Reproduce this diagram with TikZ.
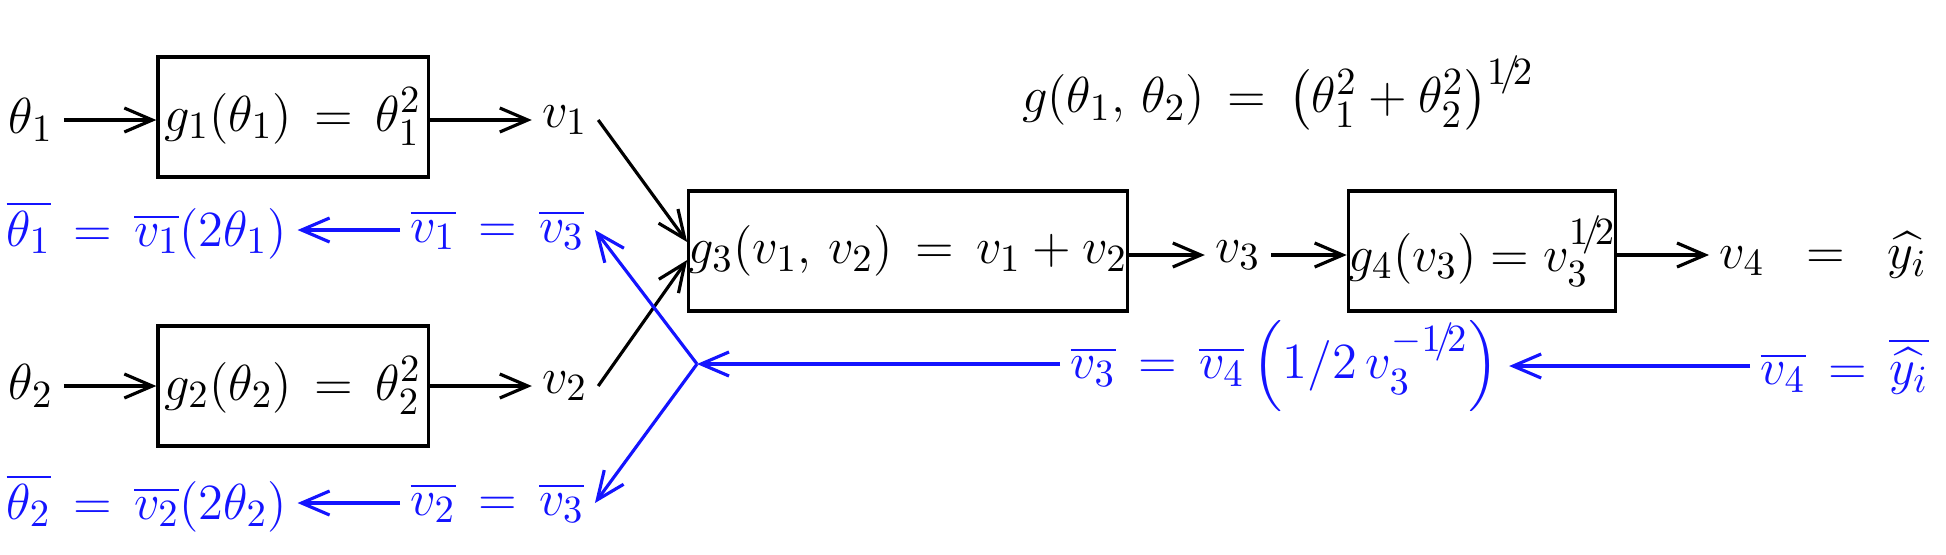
\documentclass[tikz,border=0pt]{standalone}
\usepackage{amsmath}
\usetikzlibrary{arrows.meta}
\definecolor{backblue}{RGB}{20,20,255}

\tikzset{
  every node/.style={font=\fontsize{15}{18}\selectfont, inner sep=1mm},
  fbox/.style={draw, line width=0.9pt, minimum height=1.2cm, inner sep=0pt},
  fwd/.style={line width=0.9pt, -{Straight Barb[length=2.8mm,width=2.4mm]}},
  bwd/.style={fwd, draw=backblue},
  back/.style={text=backblue, anchor=west},
}

\begin{document}
\begin{tikzpicture}[x=0.01cm, y=-0.01cm]
  \useasboundingbox (0,0) rectangle (1946,554);

  % forward pass
  \node (t1) at (31,120) {$\theta_1$};
  \node[fbox, minimum width=2.7cm] (g1) at (293,117) {$g_1(\theta_1)\,=\,\theta_1^2$};
  \node (v1) at (565,120) {$v_1$};
  \node (t2) at (31,386) {$\theta_2$};
  \node[fbox, minimum width=2.7cm] (g2) at (293,386) {$g_2(\theta_2)\,=\,\theta_2^2$};
  \node (v2) at (565,386) {$v_2$};
  \node[fbox, minimum width=4.22cm] (g3) at (908,251) {$g_3(v_1,\,v_2)\,=\,v_1+v_2$};
  \node (v3) at (1238,255) {$v_3$};
  \node[fbox, minimum width=2.48cm] (g4) at (1482,251) {$g_4(v_3)=v_3^{1\!/\!2}$};
  \node[anchor=west] (v4) at (1709,255) {$v_4\;\;=\;\;\widehat{y_i}$};
  \node (g) at (1278,93) {$g(\theta_1,\,\theta_2)\,=\,\left(\theta_1^2+\theta_2^2\right)^{1\!/\!2}$};

  \draw[fwd] (t1) -- (t1 -| g1.west);
  \draw[fwd] (t1 -| g1.east) -- (v1);
  \draw[fwd] (t2) -- (t2 -| g2.west);
  \draw[fwd] (t2 -| g2.east) -- (v2);
  \draw[fwd] (v1.east) -- ([yshift=0.09cm]g3.west);
  \draw[fwd] (v2.east) -- ([yshift=-0.09cm]g3.west);
  \draw[fwd] (v3 -| g3.east) -- (v3);
  \draw[fwd] (v3) -- (v3 -| g4.west);
  \draw[fwd] (v3 -| g4.east) -- (v4);

  % backward pass
  \node[back] (bt1) at (-4,230) {$\overline{\theta_1}\,=\,\overline{v_1}(2\theta_1)$};
  \node[back] (bv1) at (400,230) {$\overline{v_1}\,=\,\overline{v_3}$};
  \node[back] (bt2) at (-4,503) {$\overline{\theta_2}\,=\,\overline{v_2}(2\theta_2)$};
  \node[back] (bv2) at (400,503) {$\overline{v_2}\,=\,\overline{v_3}$};
  \node[back] (bv3) at (1060,366) {$\overline{v_3}\,=\,\overline{v_4}\left(1/2\,v_3^{-1\!/\!2}\right)$};
  \node[back] (bv4) at (1750,366) {$\overline{v_4}\,=\,\overline{\widehat{y_i}}$};
  \coordinate (jn) at (697,364);

  \draw[bwd] (bv1.west) -- (bt1.east);
  \draw[bwd] (bv2.west) -- (bt2.east);
  \draw[bwd] (bv4.west) -- (bv3.east);
  \draw[bwd] (jn -| bv3.west) -- (jn);
  \draw[bwd] (jn) -- (bv1.east);
  \draw[bwd] (jn) -- (bv2.east);
\end{tikzpicture}
\end{document}
